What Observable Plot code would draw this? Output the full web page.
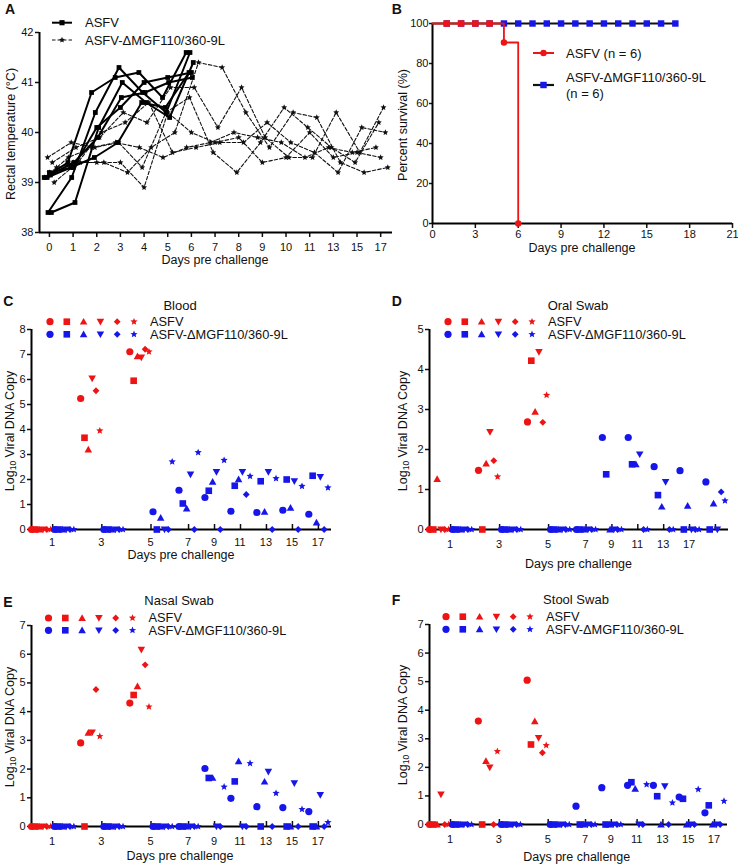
<!DOCTYPE html>
<html><head><meta charset="utf-8">
<script src="https://cdn.jsdelivr.net/npm/d3@7"></script>
<script src="https://cdn.jsdelivr.net/npm/@observablehq/plot@0.6"></script>
<style>
body{margin:0;background:#fff;}
#fig{position:relative;width:738px;height:866px;overflow:hidden;background:#fff;font-family:"Liberation Sans",Arial,sans-serif;}
.panel{position:absolute;}
</style></head><body><div id="fig"></div>
<script>
// ---------------- Panel A: rectal temperature ----------------
const tempDays = ["0","1","2","3","4","5","6","7","8","9","10","11","13","15","17"];
const asfvTemp = [
  [39.1, 39.4, 40.8, 41.1, 41.2, 40.7, 41.6],
  [38.4, 39.1, 40.4, 41.3, 40.8, 40.4, 41.6],
  [38.4, 38.6, 40.1, 41.0, 40.6, 40.3, 41.4],
  [39.2, 39.3, 40.1, 40.5, 41.0, 41.1, 41.2],
  [39.15, 39.4, 39.9, 40.7, 40.8, 41.0, 41.1],
  [39.1, 39.3, 39.5, 39.8, 40.6, 40.5, 41.2]
];
const mutTemp = [
  [39.4, 39.7, 39.9, 40.4, 40.2, 40.9, 40.9, 40.1, 40.9, 39.9, 39.5, 39.5, 40.4, 39.6, 40.5],
  [39.3, 39.4, 39.4, 39.2, 39.7, 40.0, 41.4, 41.3, 40.4, 39.7, 40.4, 40.3, 39.4, 39.2, 39.3],
  [39.5, 39.8, 39.7, 39.8, 39.3, 40.4, 40.7, 39.6, 39.2, 39.8, 40.5, 40.1, 39.7, 39.4, 40.2],
  [39.0, 39.4, 40.0, 40.2, 40.6, 39.6, 39.7, 39.8, 39.8, 40.2, 39.8, 39.6, 39.2, 40.1, 40.0],
  [39.2, 39.4, 39.4, 39.4, 38.9, 40.4, 40.0, 39.8, 39.9, 39.4, 39.5, 40.0, 39.5, 39.6, 39.5],
  [39.1, 39.5, 39.7, 39.8, 39.7, 39.5, 39.7, 39.8, 40.0, 39.9, 39.8, 39.5, 39.7, 39.6, 39.7]
];
const tempTicks = [38, 39, 40, 41, 42];

// ---------------- Panel B: survival ----------------
const survDaysMut = [0,1,2,3,4,5,6,7,8,9,10,11,12,13,14,15,16,17];
const survMut     = [100,100,100,100,100,100,100,100,100,100,100,100,100,100,100,100,100,100];
const survDaysAsfv = [0,1,2,3,4,5,6];
const survAsfv     = [100,100,100,100,100,90.5,0];
const survXTicks = [0,3,6,9,12,15,18,21];
const survYTicks = [0,20,40,60,80,100];

// ---------------- Panels C-F: viral DNA (log10) ----------------
// per sampling day, six pigs (circle, square, triangle, down-triangle, diamond, star)
const sampleDays = [1,3,5,7,9,11,13,15,17];
const bloodAsfv = [[0,0,0,0,0,0],[5.24,3.67,3.2,6.04,5.55,3.95],[7.11,5.95,6.93,6.88,7.21,7.11]];
const bloodMut = [
  [0,0,0,0,0,0],[0,0,0,0,0,0],[0.71,0,0.47,0,0,2.71],
  [1.57,1.04,0.84,2.2,0,3.08],[1.28,1.55,1.91,2.3,0,2.77],[0.73,1.75,2.01,2.3,1.4,2.13],
  [0.68,1.93,0.71,2.3,0,2.04],[0.77,2.0,0.87,1.93,0,1.73],[0.61,2.15,0.28,2.1,0,1.67]
];
const oralAsfv = [[0,0,1.26,0,0,0],[1.48,0,1.65,2.44,1.72,1.32],[2.69,4.22,2.94,4.44,2.68,3.36]];
const oralMut = [
  [0,0,0,0,0,0],[0,0,0,0,0,0],[0,0,0,0,0,0],[0,0,0,0,0,0],
  [2.3,1.38,0,0,0,0],[2.3,1.63,1.63,1.88,0,0],[1.57,0.86,0.57,1.19,0,0],
  [1.47,0,0.59,0,0,0],[1.19,0,0.65,0,0.94,0.72]
];
const nasalAsfv = [[0,0,0,0,0,0],[2.91,0,3.26,3.28,4.77,3.14],[4.3,4.58,4.88,6.16,5.63,4.17]];
const nasalMut = [
  [0,0,0,0,0,0],[0,0,0,0,0,0],[0,0,0,0,0,0],[0,0,0,0,0,0],
  [2.02,1.69,1.69,0,0,1.38],[0.98,1.57,2.27,0,0,2.2],[0.69,0,1.56,1.91,0,1.16],
  [0.66,0,0,1.51,0,0.6],[0.52,0,0,1.1,0,0.14]
];
const stoolAsfv = [[0,0,0,1.05,0,0],[3.62,0,2.22,2.0,0,2.56],[5.05,2.8,3.61,3.03,2.51,2.77]];
const stoolMut = [
  [0,0,0,0,0,0],[0,0,0,0,0,0],[0,0,0,0,0,0],
  [0.64,0,0,0,0,0],[1.29,0,0,0,0,0],[1.37,1.48,1.25,0,0,1.4],
  [1.37,0.99,0,1.34,0,0.76],[0.96,0.9,0,0,0,1.23],[0.41,0.67,0,0,0,0.82]
];
// tick labels as printed; panel D prints "17" under its day-15 group and no label under day 17
const dayLabels = sampleDays.map(String);
const oralDayLabels = sampleDays.map(d => d === 15 ? "17" : d === 17 ? "" : String(d));
const groupNames = ["ASFV", "ASFV-ΔMGF110/360-9L"];

// ---------------- styling ----------------
const RED = "#ee1414", BLUE = "#1616ea";
const FONT = '"Liberation Sans", Arial, sans-serif';
const style = {fontFamily: FONT, fontSize: "11px", color: "#111", background: "transparent", overflow: "visible", maxWidth: "none"};
const SHAPES = ["circle","square","triangle","down","diamond","star"];
const intFmt = d => String(Math.round(d));

function drawShape(ctx, kind, r) {
  switch (kind) {
    case "circle": ctx.moveTo(r, 0); ctx.arc(0, 0, r, 0, 2 * Math.PI); break;
    case "square": { const s = 0.92 * r; ctx.rect(-s, -s, 2 * s, 2 * s); break; }
    case "triangle": ctx.moveTo(0, -1.05 * r); ctx.lineTo(1.05 * r, 0.8 * r); ctx.lineTo(-1.05 * r, 0.8 * r); ctx.closePath(); break;
    case "down": ctx.moveTo(0, 1.05 * r); ctx.lineTo(1.05 * r, -0.8 * r); ctx.lineTo(-1.05 * r, -0.8 * r); ctx.closePath(); break;
    case "diamond": { const d = 0.95 * r; ctx.moveTo(0, -d); ctx.lineTo(d, 0); ctx.lineTo(0, d); ctx.lineTo(-d, 0); ctx.closePath(); break; }
    case "star": {
      const R = 1.05 * r, ri = 0.45 * R;
      for (let i = 0; i < 10; i++) {
        const a = -Math.PI / 2 + i * Math.PI / 5, rr = i % 2 ? ri : R;
        const x = rr * Math.cos(a), y = rr * Math.sin(a);
        if (i) ctx.lineTo(x, y); else ctx.moveTo(x, y);
      }
      ctx.closePath();
    }
  }
}
const SYM = Object.fromEntries(SHAPES.map(k => [k, {draw(ctx, size) { drawShape(ctx, k, Math.sqrt(size / Math.PI)); }}]));
function shapePath(kind, r) { const p = d3.path(); drawShape(p, kind, r); return p.toString(); }

const fig = d3.select("#fig");
function place(svg, left, top) {
  fig.append("div").attr("class", "panel").style("left", left + "px").style("top", top + "px").node().appendChild(svg);
  return d3.select(svg);
}
function txt(sel, x, y, s, o = {}) {
  return sel.append("text").attr("x", x).attr("y", y).attr("font-family", FONT)
    .attr("font-size", o.size || 12.5).attr("font-weight", o.weight || "normal")
    .attr("text-anchor", o.anchor || "start").attr("fill", o.fill || "#111").text(s);
}
function vtxt(sel, x, cy, s, size = 12.5) {
  return sel.append("text").attr("transform", `translate(${x},${cy}) rotate(-90)`).attr("font-family", FONT)
    .attr("font-size", size).attr("text-anchor", "middle").attr("fill", "#111").text(s);
}

// ================= Panel A =================
const asfvDodge = [-0.22, -0.06, 0.08, 0, 0.04, -0.1];
const mutDodge = [0.12, 0.3, -0.08, 0.2, 0.0, -0.2];
const asfvTempData = asfvTemp.flatMap((s, i) => s.map((t, k) => ({id: i, x: k + asfvDodge[i], y: t})));
const mutTempData = mutTemp.flatMap((s, i) => s.map((t, k) => ({id: i, x: k + mutDodge[i], y: t})));
const idx = tempDays.map((d, i) => i);
{
  const svg = Plot.plot({
    width: 400, height: 270, marginLeft: 39, marginRight: 8, marginTop: 32, marginBottom: 38,
    x: {domain: [-0.42, 14.5]}, y: {domain: [38, 42]}, style,
    marks: [
      Plot.axisX({ticks: idx, tickFormat: i => tempDays[Math.round(i)], tickSize: 5, tickPadding: 6, strokeWidth: 1.5, label: null}),
      Plot.axisY({ticks: tempTicks, tickFormat: intFmt, tickSize: 4, tickPadding: 2, strokeWidth: 1.5, label: null}),
      Plot.ruleX([-0.42], {stroke: "#000", strokeWidth: 2}),
      Plot.ruleY([38], {stroke: "#000", strokeWidth: 2}),
      Plot.line(mutTempData, {x: "x", y: "y", z: "id", stroke: "#111", strokeWidth: 1.1, strokeDasharray: "3.5,2"}),
      Plot.dot(mutTempData, {x: "x", y: "y", r: 3.0, symbol: SYM.star, fill: "#111"}),
      Plot.line(asfvTempData, {x: "x", y: "y", z: "id", stroke: "#000", strokeWidth: 2}),
      Plot.dot(asfvTempData, {x: "x", y: "y", r: 2.6, symbol: SYM.square, fill: "#000"})
    ]
  });
  const s = place(svg, 0, 0);
  txt(s, 5, 13.5, "A", {size: 14, weight: "bold"});
  s.append("line").attr("x1", 52).attr("x2", 72).attr("y1", 22.7).attr("y2", 22.7).attr("stroke", "#000").attr("stroke-width", 2);
  s.append("path").attr("transform", "translate(62,22.7)").attr("d", shapePath("square", 2.8)).attr("fill", "#000");
  txt(s, 85, 27.3, groupNames[0], {size: 13});
  s.append("line").attr("x1", 52).attr("x2", 72).attr("y1", 40).attr("y2", 40).attr("stroke", "#111").attr("stroke-width", 1.1).attr("stroke-dasharray", "3.5,2");
  s.append("path").attr("transform", "translate(62,40)").attr("d", shapePath("star", 3)).attr("fill", "#111");
  txt(s, 85, 44.6, groupNames[1], {size: 13});
  vtxt(s, 14.5, 134, "Rectal temperature (°C)");
  txt(s, 215, 264, "Days pre challenge", {anchor: "middle"});
}

// ================= Panel B =================
{
  const mutData = survDaysMut.map((d, i) => ({day: d, p: survMut[i]}));
  const asfvData = survDaysAsfv.map((d, i) => ({day: d, p: survAsfv[i]}));
  const svg = Plot.plot({
    width: 368, height: 270, marginLeft: 62, marginRight: 6, marginTop: 23, marginBottom: 47,
    x: {domain: [0, 21]}, y: {domain: [0, 100]}, style,
    marks: [
      Plot.axisX({ticks: survXTicks, tickFormat: intFmt, tickSize: 5, tickPadding: 2, strokeWidth: 1.5, label: null}),
      Plot.axisY({ticks: survYTicks, tickFormat: intFmt, tickSize: 3, tickPadding: 1, strokeWidth: 1.5, label: null}),
      Plot.ruleX([0], {stroke: "#000", strokeWidth: 2}),
      Plot.ruleY([0], {stroke: "#000", strokeWidth: 2}),
      Plot.line(mutData, {x: "day", y: "p", stroke: "#111", strokeWidth: 2, curve: "step-after"}),
      Plot.dot(mutData.filter(d => d.day > 0), {x: "day", y: "p", r: 3.5, symbol: SYM.square, fill: BLUE}),
      Plot.line(asfvData, {x: "day", y: "p", stroke: RED, strokeWidth: 1.8, curve: "step-after"}),
      Plot.dot(asfvData.filter(d => d.day > 0 && d.p === 100), {x: "day", y: "p", r: 3.5, symbol: SYM.square, fill: RED}),
      Plot.dot(asfvData.filter(d => d.p < 100), {x: "day", y: "p", r: 3.2, symbol: SYM.circle, fill: RED})
    ]
  });
  const s = place(svg, 370, 0);
  txt(s, 21.7, 13.5, "B", {size: 14, weight: "bold"});
  s.append("line").attr("x1", 163).attr("x2", 184).attr("y1", 53).attr("y2", 53).attr("stroke", RED).attr("stroke-width", 2);
  s.append("path").attr("transform", "translate(173.5,53)").attr("d", shapePath("circle", 3.2)).attr("fill", RED);
  txt(s, 196, 57.5, groupNames[0] + " (n = 6)", {size: 13});
  s.append("line").attr("x1", 163).attr("x2", 184).attr("y1", 85).attr("y2", 85).attr("stroke", "#111").attr("stroke-width", 2.2);
  s.append("path").attr("transform", "translate(173.5,85)").attr("d", shapePath("square", 3.5)).attr("fill", BLUE);
  txt(s, 196, 81.5, groupNames[1], {size: 13});
  txt(s, 196, 97.5, "(n = 6)", {size: 13});
  vtxt(s, 36.5, 125, "Percent survival (%)");
  txt(s, 212, 252, "Days pre challenge", {anchor: "middle"});
}

// ================= Panels C-F =================
function buildScatter(asfv, mut) {
  const pts = [], groups = [];
  let pos = null, lastDay = null;
  sampleDays.forEach((day, di) => {
    [["ASFV", asfv[di]], ["MUT", mut[di]]].forEach(([virus, vals]) => {
      if (!vals) return;
      pos = pos === null ? 0 : pos + (day === lastDay ? 0.92 : 1.03);
      lastDay = day;
      groups.push({day, pos});
      vals.forEach((v, s) => pts.push({virus, s, x: pos + s * 0.152, y: v}));
    });
  });
  const ticks = sampleDays.map(day => d3.mean(groups.filter(g => g.day === day), g => g.pos) + 0.38);
  return {pts, ticks};
}

function scatterPanel(c) {
  const {pts, ticks} = buildScatter(c.asfv, c.mut);
  const ymax = c.ymax;
  const yt = d3.range(0, ymax + 1);
  const marks = [
    Plot.axisX({ticks, tickSize: -5, fill: "none", strokeWidth: 1.5, label: null}),
    Plot.axisY({ticks: yt, tickFormat: intFmt, tickSize: 4, tickPadding: 2, strokeWidth: 1.5, label: null}),
    Plot.ruleX([0], {stroke: "#000", strokeWidth: 2}),
    Plot.ruleY([0], {stroke: "#000", strokeWidth: 2})
  ];
  for (const [virus, color] of [["ASFV", RED], ["MUT", BLUE]]) {
    SHAPES.forEach((k, si) => {
      marks.push(Plot.dot(pts.filter(p => p.virus === virus && p.s === si), {x: "x", y: "y", r: 3.6, symbol: SYM[k], fill: color}));
    });
  }
  const svg = Plot.plot({
    width: c.w, height: c.h, marginLeft: c.ml, marginRight: c.mr, marginTop: c.mt, marginBottom: c.mb,
    x: {domain: [0, 11.9]}, y: {domain: [0, ymax]}, style, marks
  });
  const s = place(svg, c.left, c.top);
  // tick labels placed through Plot's own x scale
  const xs = svg.scale("x");
  const base = c.h - c.mb + c.xpad + 8;
  c.labels.forEach((lab, i) => {
    if (lab !== "") txt(s, xs.apply(ticks[i]), base, lab, {size: 11, anchor: "middle"});
  });
  txt(s, c.letterX, c.letterY, c.letter, {size: 14, weight: "bold"});
  txt(s, c.titleX, c.titleY, c.title, {size: 13, anchor: "middle"});
  [[RED, c.legY[0], groupNames[0]], [BLUE, c.legY[1], groupNames[1]]].forEach(([col, y, name]) => {
    SHAPES.forEach((k, i) => {
      s.append("path").attr("transform", `translate(${c.legX + i * 16.8},${y})`).attr("d", shapePath(k, 3.6)).attr("fill", col);
    });
    txt(s, c.legX + 100, y + 4.4, name, {size: 12.8});
  });
  const yl = s.append("text").attr("transform", `translate(${c.ylabX},${c.ylabY}) rotate(-90)`)
    .attr("font-family", FONT).attr("font-size", 12.5).attr("text-anchor", "middle").attr("fill", "#111");
  yl.append("tspan").text("Log");
  yl.append("tspan").attr("font-size", 8.5).attr("dy", 2.5).text("10");
  yl.append("tspan").attr("dy", -2.5).text(" Viral DNA Copy");
  txt(s, c.xlabX, c.xlabY, "Days pre challenge", {anchor: "middle"});
}

scatterPanel({asfv: bloodAsfv, mut: bloodMut, labels: dayLabels, ymax: 8, title: "Blood", letter: "C",
  left: 0, top: 280, w: 369, h: 290, ml: 31, mr: 38, mt: 49, mb: 41, xpad: 9,
  letterX: 3.3, letterY: 25.5, titleX: 180, titleY: 29.5, legX: 50, legY: [41.7, 54.3],
  ylabX: 13.5, ylabY: 151, xlabX: 181, xlabY: 279});
scatterPanel({asfv: nasalAsfv, mut: nasalMut, labels: dayLabels, ymax: 7, title: "Nasal Swab", letter: "E",
  left: 0, top: 570, w: 369, h: 296, ml: 31, mr: 38, mt: 55, mb: 40, xpad: 11,
  letterX: 3.3, letterY: 36.7, titleX: 179, titleY: 35, legX: 48.5, legY: [48, 60.3],
  ylabX: 13.5, ylabY: 157, xlabX: 180, xlabY: 290});
scatterPanel({asfv: stoolAsfv, mut: stoolMut, labels: dayLabels, ymax: 7, title: "Stool Swab", letter: "F",
  left: 370, top: 570, w: 368, h: 296, ml: 59, mr: 11, mt: 54, mb: 42, xpad: 11,
  letterX: 21.7, letterY: 35, titleX: 206, titleY: 34.3, legX: 76, legY: [46.7, 59.3],
  ylabX: 36.5, ylabY: 155, xlabX: 206.7, xlabY: 291});
scatterPanel({asfv: oralAsfv, mut: oralMut, labels: oralDayLabels, ymax: 5, title: "Oral Swab", letter: "D",
  left: 370, top: 280, w: 368, h: 290, ml: 59, mr: 10, mt: 49, mb: 41, xpad: 10.5,
  letterX: 21.7, letterY: 25.5, titleX: 208, titleY: 29.5, legX: 78, legY: [41.7, 54.3],
  ylabX: 36.5, ylabY: 151, xlabX: 208.5, xlabY: 288});
</script>
</body></html>
